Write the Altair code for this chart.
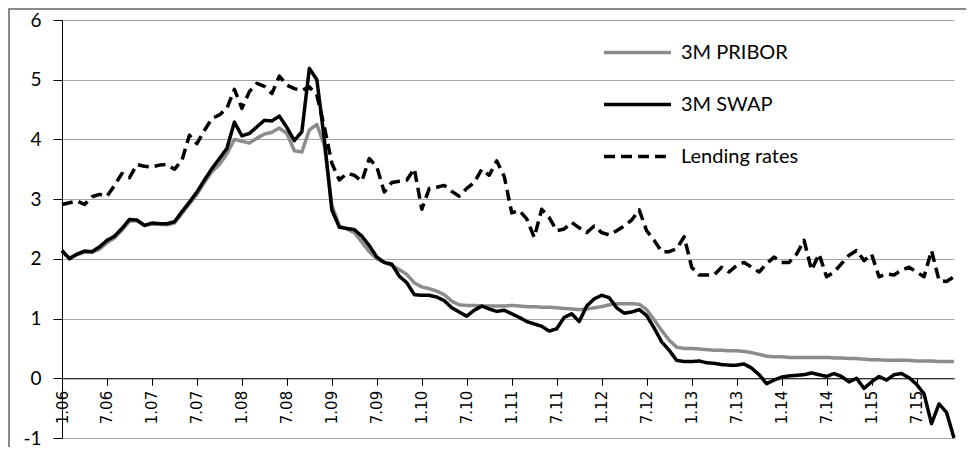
import altair as alt
import pandas as pd

# ---- data -------------------------------------------------------------
months = [f"{m}.{y:02d}" for y in range(6, 16) for m in range(1, 13)]
tick_labels = [f"{m}.{y:02d}" for y in range(6, 16) for m in (1, 7)]
series_names = ["3M PRIBOR", "3M SWAP", "Lending rates"]

pribor = [
    2.12, 2.02, 2.07, 2.11, 2.11, 2.16, 2.27, 2.35, 2.48, 2.63, 2.64, 2.56,
    2.58, 2.58, 2.57, 2.60, 2.76, 2.92, 3.08, 3.28, 3.46, 3.58, 3.76, 4.00,
    3.97, 3.94, 4.02, 4.09, 4.12, 4.19, 4.10, 3.81, 3.79, 4.16, 4.25, 3.90,
    2.90, 2.55, 2.50, 2.44, 2.28, 2.12, 2.00, 1.94, 1.89, 1.82, 1.74, 1.60,
    1.53, 1.50, 1.46, 1.40, 1.29, 1.23, 1.22, 1.22, 1.21, 1.21, 1.21, 1.21,
    1.22, 1.21, 1.20, 1.20, 1.19, 1.19, 1.18, 1.17, 1.16, 1.15, 1.16, 1.18,
    1.20, 1.23, 1.25, 1.25, 1.25, 1.24, 1.15, 0.98, 0.80, 0.64, 0.52, 0.50,
    0.50, 0.49, 0.48, 0.47, 0.47, 0.46, 0.46, 0.45, 0.43, 0.40, 0.37, 0.36,
    0.36, 0.35, 0.35, 0.35, 0.35, 0.35, 0.35, 0.34, 0.34, 0.33, 0.33, 0.32,
    0.31, 0.31, 0.30, 0.30, 0.30, 0.30, 0.29, 0.29, 0.29, 0.28, 0.28, 0.28,
]
swap = [
    2.14, 2.00, 2.08, 2.13, 2.12, 2.20, 2.31, 2.38, 2.51, 2.66, 2.65, 2.56,
    2.60, 2.59, 2.59, 2.62, 2.79, 2.95, 3.12, 3.32, 3.51, 3.68, 3.85, 4.29,
    4.06, 4.10, 4.21, 4.32, 4.31, 4.39, 4.20, 3.98, 4.13, 5.19, 5.00, 4.00,
    2.82, 2.53, 2.51, 2.49, 2.38, 2.22, 2.03, 1.94, 1.91, 1.71, 1.60, 1.40,
    1.39, 1.39, 1.36, 1.30, 1.18, 1.11, 1.04, 1.14, 1.21, 1.16, 1.12, 1.14,
    1.08, 1.02, 0.95, 0.91, 0.87, 0.79, 0.83, 1.02, 1.08, 0.95, 1.21, 1.33,
    1.39, 1.35, 1.18, 1.09, 1.11, 1.15, 1.05, 0.84, 0.61, 0.47, 0.30, 0.28,
    0.28, 0.29, 0.26, 0.25, 0.23, 0.22, 0.22, 0.24, 0.17, 0.06, -0.09, -0.03,
    0.02, 0.04, 0.05, 0.06, 0.09, 0.06, 0.03, 0.08, 0.03, -0.06, 0.00, -0.17,
    -0.06, 0.03, -0.03, 0.06, 0.08, 0.01, -0.10, -0.26, -0.76, -0.43, -0.57, -1.00,
]
lending = [
    2.91, 2.94, 2.97, 2.91, 3.04, 3.08, 3.05, 3.23, 3.43, 3.36, 3.58, 3.55,
    3.54, 3.57, 3.58, 3.50, 3.65, 4.07, 3.93, 4.15, 4.35, 4.41, 4.52, 4.84,
    4.52, 4.80, 4.94, 4.89, 4.77, 5.06, 4.91, 4.85, 4.82, 4.88, 4.74, 4.21,
    3.60, 3.32, 3.43, 3.40, 3.30, 3.68, 3.54, 3.12, 3.28, 3.30, 3.32, 3.51,
    2.83, 3.18, 3.20, 3.23, 3.13, 3.05, 3.18, 3.28, 3.50, 3.40, 3.64, 3.38,
    2.77, 2.81, 2.67, 2.36, 2.83, 2.69, 2.47, 2.50, 2.61, 2.52, 2.44, 2.55,
    2.44, 2.40, 2.47, 2.55, 2.65, 2.82, 2.47, 2.31, 2.12, 2.12, 2.17, 2.37,
    1.86, 1.73, 1.73, 1.73, 1.86, 1.78, 1.89, 1.94, 1.86, 1.78, 1.92, 2.03,
    1.94, 1.94, 2.08, 2.31, 1.81, 2.08, 1.70, 1.78, 1.92, 2.06, 2.14, 1.97,
    2.08, 1.70, 1.75, 1.73, 1.81, 1.86, 1.78, 1.70, 2.14, 1.64, 1.62, 1.70,
]
y_ticks = [-1, 0, 1, 2, 3, 4, 5, 6]

rows = []
for name, vals in zip(series_names, [pribor, swap, lending]):
    for mth, v in zip(months, vals):
        rows.append({"month": mth, "series": name, "value": v})
df = pd.DataFrame(rows)

# ---- chart ------------------------------------------------------------
W, H = 892, 418

legend = alt.Legend(
    title=None, orient="none", legendX=540, legendY=-3,
    symbolType="stroke", symbolSize=4489, symbolStrokeWidth=3.5,
    labelFont="Lato", labelFontSize=20, labelColor="black", labelOffset=8,
    rowPadding=6, padding=0,
)

lines = alt.Chart(df).mark_line(strokeWidth=3.5, strokeJoin="round").encode(
    x=alt.X(
        "month:O", sort=months,
        scale=alt.Scale(type="point", padding=0),
        axis=alt.Axis(
            values=tick_labels, labelAngle=-90, title=None, offset=-H / 7,
            domainColor="black", domainWidth=1, tickColor="black", tickSize=7,
            labelPadding=5, labelFont="DejaVu Sans", labelFontSize=15,
            labelColor="black", grid=False,
        ),
    ),
    y=alt.Y(
        "value:Q",
        scale=alt.Scale(domain=[-1, 6], nice=False, zero=False),
        axis=alt.Axis(
            values=y_ticks, title=None, labelExpr="'' + datum.value",
            domainColor="black", tickColor="black", tickSize=9,
            labelPadding=12, labelFont="Lato", labelFontSize=19,
            labelColor="black", gridColor="#a6a6a6", gridWidth=1,
        ),
    ),
    color=alt.Color(
        "series:N",
        scale=alt.Scale(domain=series_names, range=["#8c8c8c", "#000000", "#000000"]),
        legend=legend,
    ),
    strokeDash=alt.StrokeDash(
        "series:N",
        scale=alt.Scale(domain=series_names, range=[[1, 0], [1, 0], [11, 6]]),
        legend=legend,
    ),
)

border = alt.Chart(pd.DataFrame({"a": [0]})).mark_rect(
    fill="white", fillOpacity=0, stroke="#8a8a8a", strokeWidth=2
).encode(
    x=alt.value(-53), x2=alt.value(W + 60), y=alt.value(-11), y2=alt.value(H + 60)
)

chart = alt.layer(lines, border).properties(
    width=W, height=H,
    autosize=alt.AutoSizeParams(type="none"),
    padding={"left": 54, "top": 12, "right": 12, "bottom": 9},
).configure_view(stroke="transparent")

chart.save("out.html", embed_options={"renderer": "svg", "actions": False})
